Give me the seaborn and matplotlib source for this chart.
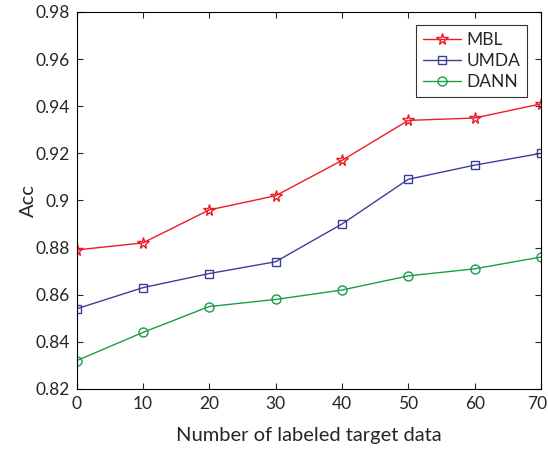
import matplotlib
matplotlib.use("Agg")
import matplotlib.pyplot as plt
import matplotlib.transforms as mtransforms
import seaborn as sns
import pandas as pd

# Data
x_labeled = [0, 10, 20, 30, 40, 50, 60, 70]
acc_mbl = [0.879, 0.882, 0.896, 0.902, 0.917, 0.934, 0.935, 0.941]
acc_umda = [0.854, 0.863, 0.869, 0.874, 0.890, 0.909, 0.915, 0.920]
acc_dann = [0.832, 0.844, 0.855, 0.858, 0.862, 0.868, 0.871, 0.876]
methods = ["MBL", "UMDA", "DANN"]
colors = ["#ee1c25", "#3d3d98", "#1a9e48"]
markers = ["*", "s", "o"]
msizes = [8.5, 5.2, 6.5]

df = pd.DataFrame({
    "x": x_labeled * 3,
    "acc": acc_mbl + acc_umda + acc_dann,
    "method": sum([[m] * len(x_labeled) for m in methods], []),
})

sns.set_style("ticks")
plt.rcParams['font.family'] = ['Lato', 'DejaVu Sans']

fig = plt.figure(figsize=(5.48, 4.51), dpi=100)
ax = fig.add_axes([0.1396, 0.1375, 0.8476, 0.8359])

for m, c, mk, ms in zip(methods, colors, markers, msizes):
    sub = df[df["method"] == m]
    sns.lineplot(data=sub, x="x", y="acc", ax=ax, color=c, marker=mk,
                 markersize=ms, markerfacecolor="none",
                 markeredgecolor=c, markeredgewidth=1.0, linewidth=1.0,
                 label=m)

ax.set_xlim(0, 70)
ax.set_ylim(0.82, 0.98)
ax.set_xticks(range(0, 71, 10))
ax.set_yticks([0.82, 0.84, 0.86, 0.88, 0.9, 0.92, 0.94, 0.96, 0.98])
ax.set_yticklabels(["0.82", "0.84", "0.86", "0.88", "0.9", "0.92", "0.94", "0.96", "0.98"])
ax.tick_params(direction="in", top=True, right=True, labelsize=12.5, length=4, pad=5)
for s in ax.spines.values():
    s.set_linewidth(0.8)
    s.set_color("black")
ax.set_xlabel("Number of labeled target data", fontsize=14.5, labelpad=11)
ax.set_ylabel("Acc", fontsize=14.5, labelpad=-1)

# last x tick label sits at the figure edge; nudge it in a little
last = ax.get_xticklabels()[-1]
last.set_transform(last.get_transform() +
                   mtransforms.ScaledTranslation(-4 / 100, 0, fig.dpi_scale_trans))

leg = ax.legend(loc="upper right", bbox_to_anchor=(0.97, 0.966), fontsize=12.5,
                frameon=True, fancybox=False, edgecolor="black",
                handlelength=2.2, handletextpad=0.3, borderpad=0.4,
                labelspacing=0.3, borderaxespad=0)
leg.get_frame().set_linewidth(0.8)

fig.savefig("out.png", dpi=100)
